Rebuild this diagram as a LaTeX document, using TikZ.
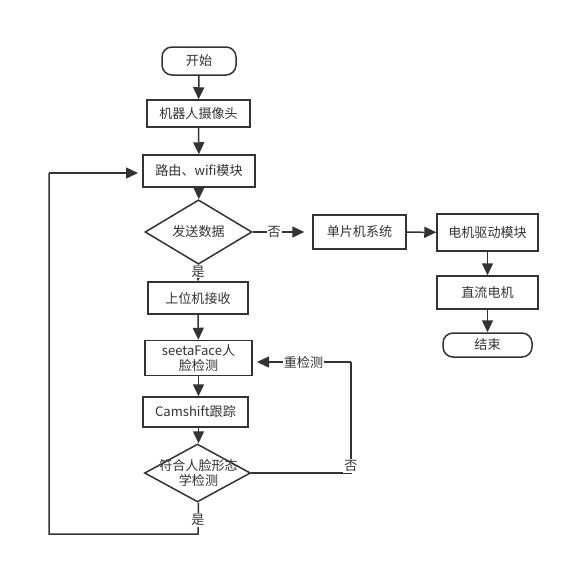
\documentclass[tikz,border=0pt]{standalone}
\usepackage{fontspec}
\setmainfont{Noto Sans CJK SC}
\usetikzlibrary{shapes.geometric,arrows.meta}
\definecolor{ln}{HTML}{333333}
\tikzset{
  every node/.style={font=\fontsize{9.8}{12.5}\selectfont, text=ln},
  box/.style={draw=ln, line width=1.125pt, rectangle, inner sep=0pt},
  term/.style={draw=ln, line width=1.125pt, rectangle, rounded corners=7.5pt, inner sep=0pt},
  dec/.style={draw=ln, line width=1.125pt, diamond, inner sep=0pt},
  conn/.style={draw=ln, line width=1.125pt, -{Triangle[length=9pt,width=8.25pt]}},
  plain/.style={draw=ln, line width=1.125pt},
  lbl/.style={fill=white, inner sep=0.75pt},
}
\begin{document}
\begin{tikzpicture}[x=0.75pt,y=-0.75pt]
\useasboundingbox (0,0) rectangle (570,569);
\fill[white] (0,0) rectangle (570,569);
\node[term, minimum width=55.5pt, minimum height=21pt] (start) at (199,61) {开始};
\node[box, minimum width=77.25pt, minimum height=20.25pt] (cam) at (198.5,113.5) {机器人摄像头};
\node[box, minimum width=84pt, minimum height=24pt] (wifi) at (199,171) {路由、wifi模块};
\node[dec, minimum width=80.25pt, minimum height=35.25pt] (d1) at (198.5,232) {发送数据};
\node[box, minimum width=75pt, minimum height=24pt] (pc) at (198,298) {上位机接收};
\node[box, minimum width=80.25pt, minimum height=26.25pt, align=center] (seeta) at (198.5,358) {seetaFace人\\[-1.5pt]脸检测};
\node[box, minimum width=78.75pt, minimum height=22.5pt] (cams) at (195.5,412) {Camshift跟踪};
\node[dec, minimum width=79.5pt, minimum height=43.5pt] (d2) at (197.5,473) {};
\node[align=center] (d2t) at (198.5,473) {符合人脸形态\\[-1.5pt]学检测};
\node[box, minimum width=69.75pt, minimum height=25.5pt] (mcu) at (359.5,232) {单片机系统};
\node[box, minimum width=75.75pt, minimum height=27.75pt] (drv) at (487.5,232.5) {电机驱动模块};
\node[box, minimum width=75.75pt, minimum height=24.75pt] (dc) at (487.5,292.5) {直流电机};
\node[term, minimum width=66.75pt, minimum height=18pt] (end) at (487.5,345) {结束};

\coordinate (rc) at (351,473);
\coordinate (rt) at (351,362);
\coordinate (sr) at (252,362);
\coordinate (bb) at (198,534);
\coordinate (bl) at (49,534);
\coordinate (tl) at (49,173);
\coordinate (wl) at (143,173);

\draw[conn] (start) -- (cam);
\draw[conn] (cam) -- (wifi);
\draw[conn] (wifi) -- (d1);
\draw[conn] (d1) -- node[lbl, pos=0.4] (yes1) {是} (pc);
\draw[conn] (pc) -- (seeta);
\draw[conn] (seeta.south -| d1) -- (cams.north -| d1);
\draw[conn] (cams.south -| d1) -- (d2.north -| d1);
\draw[conn, shorten >=6pt] (d1) -- node[lbl, pos=0.36] (no1) {否} (mcu);
\draw[conn] (mcu) -- (drv);
\draw[conn] (drv) -- (dc);
\draw[conn] (dc) -- (end);
\draw[plain] (d2.east) -- (rc) -- (rt);
\draw[conn, shorten >=3.75pt] (rt) -- node[lbl, pos=0.48] (re) {重检测} (sr);
\node[lbl] (no2) at (351,466) {否};
\draw[plain] (d2.south -| d1) -- (bb) -- (bl) -- (tl);
\draw[conn, shorten >=3.75pt] (tl) -- (wl);
\node[lbl] (yes2) at (198,520) {是};
\end{tikzpicture}
\end{document}
